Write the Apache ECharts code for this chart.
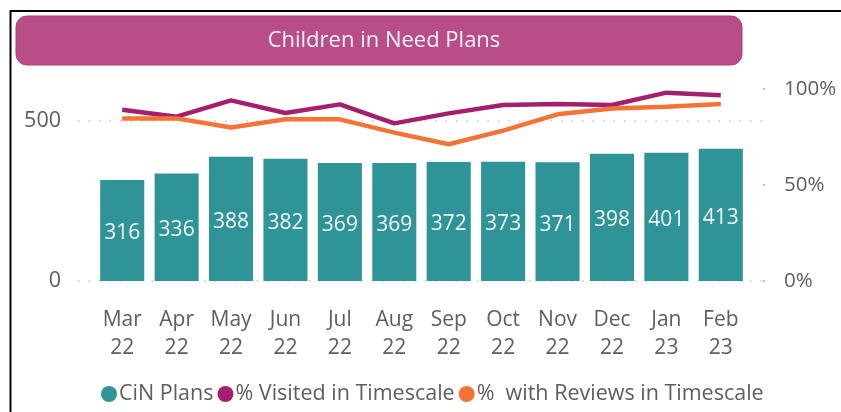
<!DOCTYPE html>
<html>
<head>
<meta charset="utf-8">
<script src="https://cdn.jsdelivr.net/npm/echarts@6/dist/echarts.min.js"></script>
<style>
  html, body { margin: 0; padding: 0; background: #fff; }
  #chart { width: 841px; height: 412px; }
</style>
</head>
<body>
<div id="chart"></div>
<script>
// month labels (two lines, as in the report)
const months = ['Mar\n22', 'Apr\n22', 'May\n22', 'Jun\n22', 'Jul\n22', 'Aug\n22',
  'Sep\n22', 'Oct\n22', 'Nov\n22', 'Dec\n22', 'Jan\n23', 'Feb\n23'];

// CiN plan counts (bars)
const cinPlans = [316, 336, 388, 382, 369, 369, 372, 373, 371, 398, 401, 413];

// percentages
const visitedPct = [89.2, 85.6, 94.1, 87.5, 92.0, 82.1, 87.3, 91.7, 92.2, 91.7, 98.1, 96.7];
const reviewsPct = [84.7, 84.7, 79.9, 84.2, 84.2, 77.3, 71.2, 78.3, 86.8, 89.8, 90.8, 92.2];

const FONT = 'Open Sans';
const GREY = '#605E5C';

const chart = echarts.init(document.getElementById('chart'));

const option = {
  animation: false,
  backgroundColor: '#fff',
  textStyle: { fontFamily: FONT },
  title: {
    text: 'Children in Need Plans',
    left: 379,
    textAlign: 'center',
    top: 25,
    textStyle: { color: '#F4F4F4', fontSize: 22, fontWeight: 'normal', fontFamily: FONT }
  },
  graphic: [
    // report frame
    {
      type: 'rect', silent: true, z: -10,
      shape: { x: 10.5, y: 11, width: 900, height: 500 },
      style: { fill: 'none', stroke: '#000', lineWidth: 2 }
    },
    // title banner
    {
      type: 'rect', silent: true, z: -5,
      shape: { x: 16, y: 16, width: 726, height: 49, r: 11 },
      style: { fill: '#B94D87', stroke: '#A83E78', lineWidth: 1 }
    }
  ],
  legend: {
    left: 96,
    top: 378,
    icon: 'circle',
    itemWidth: 16,
    itemHeight: 16,
    itemGap: 4,
    textStyle: { color: GREY, fontSize: 21.5, fontFamily: FONT, padding: [0, 0, 0, -3] },
    data: ['CiN Plans', '% Visited in Timescale', '%  with Reviews in Timescale']
  },
  grid: [
    // plotting area (bars and lines)
    { left: 95, right: 93, top: 89, bottom: 131 },
    // wider area used for gridlines and axis labels
    { left: 78, right: 76, top: 89, bottom: 131 }
  ],
  xAxis: [
    {
      type: 'category',
      gridIndex: 0,
      data: months,
      axisLine: { show: false },
      axisTick: { show: false },
      axisLabel: {
        interval: 0, hideOverlap: false,
        color: GREY, fontSize: 21, lineHeight: 28, margin: 25, fontFamily: FONT
      }
    },
    { type: 'value', gridIndex: 1, show: false }
  ],
  yAxis: [
    { type: 'value', gridIndex: 0, min: 0, max: 600, show: false },
    { type: 'value', gridIndex: 0, min: 0, max: 100, show: false },
    {
      type: 'value',
      gridIndex: 1,
      position: 'left',
      min: 0,
      max: 600,
      interval: 500,
      axisLine: { show: false },
      axisTick: { show: false },
      axisLabel: {
        color: GREY, fontSize: 21.5, margin: 17, fontFamily: FONT,
        formatter: (v) => (v === 0 || v === 500 ? String(v) : '')
      },
      splitLine: {
        show: true,
        showMaxLine: false,
        lineStyle: { color: '#C8C8C8', width: 1.5, type: [1.5, 9] }
      }
    },
    {
      type: 'value',
      gridIndex: 1,
      position: 'right',
      min: 0,
      max: 100,
      interval: 50,
      axisLine: { show: false },
      axisTick: { show: true, inside: true, length: 2, lineStyle: { color: '#C0C0C0', width: 2 } },
      axisLabel: { color: GREY, fontSize: 20.5, margin: 19, fontFamily: FONT, formatter: '{value}%' },
      splitLine: { show: false }
    }
  ],
  series: [
    {
      name: 'CiN Plans',
      type: 'bar',
      xAxisIndex: 0,
      yAxisIndex: 0,
      barWidth: '81%',
      data: cinPlans,
      itemStyle: { color: '#2F9497' },
      label: {
        show: true,
        position: 'inside',
        color: '#F4F4F4',
        fontSize: 21,
        fontFamily: FONT,
        offset: [0, 3]
      }
    },
    {
      name: '% Visited in Timescale',
      type: 'line',
      xAxisIndex: 0,
      yAxisIndex: 1,
      data: visitedPct,
      symbol: 'none',
      itemStyle: { color: '#A4206E' },
      lineStyle: { color: '#A4206E', width: 4.5 },
      z: 3
    },
    {
      name: '%  with Reviews in Timescale',
      type: 'line',
      xAxisIndex: 0,
      yAxisIndex: 1,
      data: reviewsPct,
      symbol: 'none',
      itemStyle: { color: '#F37434' },
      lineStyle: { color: '#F37434', width: 4.5 },
      z: 4
    }
  ]
};

chart.setOption(option);
</script>
</body>
</html>
